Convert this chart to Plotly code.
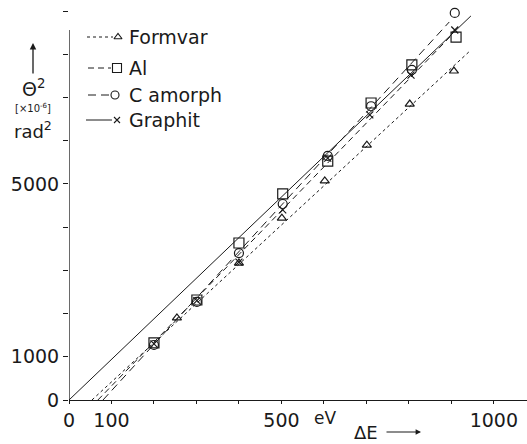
import plotly.graph_objects as go

# ---- data ----
# measured points, energy loss ΔE [eV] and θ² [1e-6 rad²]
formvar_E = [254, 400, 501, 602, 701, 802, 906]
formvar_T = [1900, 3170, 4210, 5070, 5900, 6850, 7615]

al_E = [200, 301, 400, 503, 609, 711, 807, 911]
al_T = [1320, 2315, 3634, 4770, 5530, 6875, 7755, 8400]

camorph_E = [200, 301, 400, 503, 609, 711, 807, 908]
camorph_T = [1273, 2270, 3400, 4537, 5650, 6800, 7640, 8960]

graphit_E = [200, 301, 400, 503, 609, 708, 805, 908]
graphit_T = [1300, 2300, 3190, 4400, 5600, 6600, 7520, 8565]

# fitted lines (end points)
formvar_line_E = [54, 941]
formvar_line_T = [0, 8055]
al_line_E = [68, 901]
al_line_T = [0, 8450]
camorph_line_E = [80, 895]
camorph_line_T = [0, 8750]
graphit_line_E = [0, 946]
graphit_line_T = [0, 8890]

x_tick_vals = [0, 100, 500, 1000]
x_tick_text = ["0", "100", "500", "1000"]
y_tick_vals = [0, 1000, 5000]
y_tick_text = ["0", "1000", "5000"]

legend_names = ["Formvar", "Al", "C amorph", "Graphit"]

# ---- styles ----
INK = "#1a1a1a"
FONT = "DejaVu Sans"
series = [
    (formvar_E, formvar_T, formvar_line_E, formvar_line_T, "triangle-up-open", 8, "3px,3px"),
    (al_E, al_T, al_line_E, al_line_T, "square-open", 10, "6px,4px"),
    (camorph_E, camorph_T, camorph_line_E, camorph_line_T, "circle-open", 9, "8px,5px"),
    (graphit_E, graphit_T, graphit_line_E, graphit_line_T, "x-thin-open", 7, "solid"),
]

fig = go.Figure()
for (E, T, LE, LT, sym, sz, dash) in series:
    fig.add_trace(go.Scatter(x=LE, y=LT, mode="lines",
                             line=dict(color=INK, width=1, dash=dash),
                             showlegend=False, hoverinfo="skip", cliponaxis=False))
    fig.add_trace(go.Scatter(x=E, y=T, mode="markers",
                             marker=dict(symbol=sym, size=sz, color=INK,
                                         line=dict(color=INK, width=1.2)),
                             showlegend=False, cliponaxis=False))

# ---- manual legend on an overlay axis (plot-area fraction coordinates) ----
W, H, L = 458, 400, 69
def px(x):
    return (x - L) / W
def py(y):
    return (400 - y) / H

def note(x, y, text, size=19, xanchor="center"):
    fig.add_annotation(x=px(x), y=py(y), xref="paper", yref="paper", text=text,
                       showarrow=False, xanchor=xanchor, yanchor="middle",
                       font=dict(family=FONT, size=size, color=INK))

leg_rows = [37, 68, 95, 120]
leg_line_x = [(87, 113), (88, 111), (88, 110), (86, 112)]
leg_mark_x = [118, 117, 115, 117]
for i, (name, (E, T, LE, LT, sym, sz, dash)) in enumerate(zip(legend_names, series)):
    y = leg_rows[i]
    x0, x1 = leg_line_x[i]
    fig.add_trace(go.Scatter(x=[px(x0), px(x1)], y=[py(y), py(y)], mode="lines",
                             line=dict(color=INK, width=1, dash=dash),
                             xaxis="x2", yaxis="y2", showlegend=False, hoverinfo="skip",
                             cliponaxis=False))
    fig.add_trace(go.Scatter(x=[px(leg_mark_x[i])], y=[py(y)], mode="markers",
                             marker=dict(symbol=sym, size=sz - 1, color=INK,
                                         line=dict(color=INK, width=1.1)),
                             xaxis="x2", yaxis="y2", showlegend=False, hoverinfo="skip",
                             cliponaxis=False))
    note(127, y, name, xanchor="left")

# y-axis line (stops below the top)
fig.add_shape(type="line", xref="x", yref="y", x0=0, x1=0, y0=0, y1=8565,
              line=dict(color=INK, width=1.3))

# axis titles
fig.add_annotation(x=px(33), y=py(43), xref="paper", yref="paper",
                   axref="pixel", ayref="pixel", ax=0, ay=32, text="", showarrow=True,
                   arrowhead=2, arrowsize=1, arrowwidth=1.3, arrowcolor=INK,
                   standoff=0, startstandoff=0)
note(33, 88, "Θ<sup>2</sup>")
note(33, 108, "[×10<sup>-6</sup>]", size=10)
note(33, 130, "rad<sup>2</sup>", size=18)
note(325, 418, "eV", size=17)
note(352, 432, "ΔE", size=18, xanchor="left")
fig.add_annotation(x=px(421), y=py(432), xref="paper", yref="paper",
                   axref="pixel", ayref="pixel", ax=-36, ay=0, text="", showarrow=True,
                   arrowhead=2, arrowsize=0.9, arrowwidth=1.2, arrowcolor=INK,
                   standoff=0, startstandoff=0)

fig.update_layout(
    width=527, height=444,
    margin=dict(l=69, r=0, t=0, b=44),
    paper_bgcolor="white", plot_bgcolor="white",
    font=dict(family=FONT, size=19, color=INK),
    xaxis=dict(range=[0, 1078], tickvals=x_tick_vals, ticktext=x_tick_text,
               showgrid=False, zeroline=False, showline=True, linecolor=INK, linewidth=1.3,
               ticks="outside", ticklen=3, tickcolor=INK, tickwidth=1,
               minor=dict(tick0=0, dtick=100, ticks="outside", ticklen=3,
                          tickcolor=INK, tickwidth=1, showgrid=False),
               tickfont=dict(family=FONT, size=19, color=INK), fixedrange=True),
    yaxis=dict(range=[0, 9259], tickvals=y_tick_vals, ticktext=y_tick_text,
               showgrid=False, zeroline=False, showline=False,
               ticks="outside", ticklen=5, tickcolor=INK, tickwidth=1,
               minor=dict(tick0=0, dtick=1000, ticks="outside", ticklen=5,
                          tickcolor=INK, tickwidth=1, showgrid=False),
               tickfont=dict(family=FONT, size=19, color=INK), fixedrange=True),
    xaxis2=dict(range=[0, 1], overlaying="x", visible=False, fixedrange=True),
    yaxis2=dict(range=[0, 1], overlaying="y", visible=False, fixedrange=True),
    showlegend=False,
)

fig.write_html("out.html", config={"displayModeBar": False},
               post_script="document.body.style.margin='0';")
